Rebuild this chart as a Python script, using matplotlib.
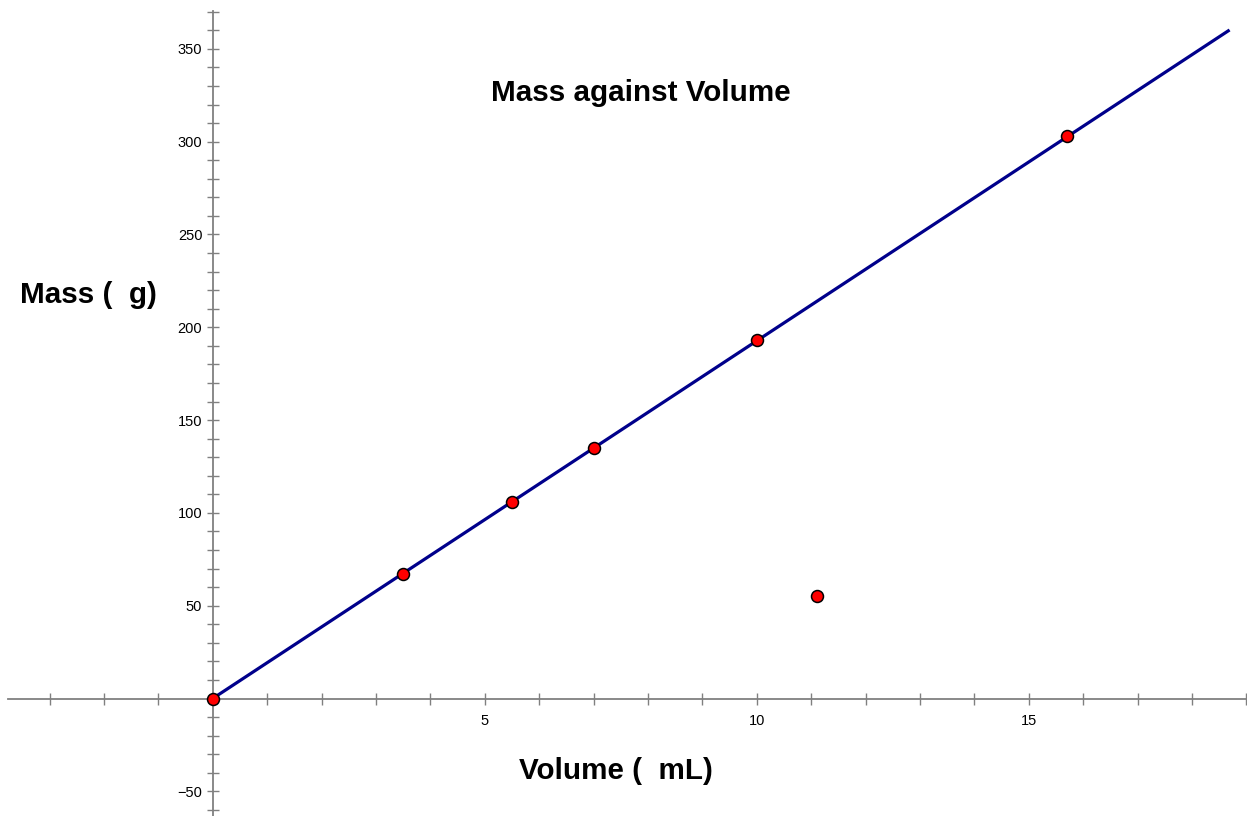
import matplotlib
matplotlib.use("Agg")
import matplotlib.pyplot as plt
import numpy as np
from matplotlib.ticker import FixedLocator, FuncFormatter

plt.rcParams['font.family'] = ['Liberation Sans', 'DejaVu Sans']

# Data
volume_ml = [0.0, 3.5, 5.5, 7.0, 10.0, 15.7, 11.1]
mass_g = [0.0, 67.0, 106.0, 135.0, 193.0, 303.0, 55.2]
fit_slope = 19.27
fit_x_end = 18.69

title = "Mass against Volume"
xlabel = "Volume (  mL)"
ylabel = "Mass (  g)"
x_label_ticks = [5, 10, 15]
y_label_ticks = [-50, 50, 100, 150, 200, 250, 300, 350]

W, H = 1247, 816
fig = plt.figure(figsize=(W / 100, H / 100), dpi=100)
ax = fig.add_axes([0, 0, 1, 1])
ax.set_xlim(-3.91, 19.01)
ax.set_ylim(-63.3, 376.3)

axis_color = '#808080'
for s in ['top', 'right']:
    ax.spines[s].set_visible(False)
ax.spines['left'].set_position(('data', 0))
ax.spines['bottom'].set_position(('data', 0))
ax.spines['bottom'].set_bounds(-3.76, 19.01)
ax.spines['left'].set_bounds(-63.3, 370.4)
for s in ['left', 'bottom']:
    ax.spines[s].set_color(axis_color)
    ax.spines[s].set_linewidth(1.3)

xt = list(range(-3, 20))
yt = list(range(-60, 371, 10))
ax.xaxis.set_major_locator(FixedLocator(xt))
ax.yaxis.set_major_locator(FixedLocator(yt))
ax.xaxis.set_major_formatter(FuncFormatter(lambda v, p: f"{int(round(v))}" if int(round(v)) in x_label_ticks else ""))
ax.yaxis.set_major_formatter(FuncFormatter(lambda v, p: (f"{int(round(v))}".replace('-', '\u2212')) if int(round(v)) in y_label_ticks else ""))
ax.tick_params(axis='both', direction='inout', length=9, width=1.0, color=axis_color,
               labelsize=10.5, labelcolor='black')
ax.tick_params(axis='x', pad=7)
ax.tick_params(axis='y', pad=3)

# Fit line
xs = np.array([0.0, fit_x_end])
ax.plot(xs, fit_slope * xs, color='#00008B', linewidth=2.3, solid_capstyle='butt', zorder=3)

# Points
ax.plot(volume_ml, mass_g, linestyle='none', marker='o', markersize=8.6,
        markerfacecolor='#FF0000', markeredgecolor='black', markeredgewidth=1.1,
        zorder=4, clip_on=False)

def ft(x, y, s, **kw):
    fig.text(x / W, 1 - y / H, s, ha='center', va='center', fontsize=21.3,
             fontweight='bold', color='black', **kw)

ft(641, 93, title)
ft(88, 295, ylabel)
ft(616, 771, xlabel)

fig.savefig("out.png", dpi=100)
